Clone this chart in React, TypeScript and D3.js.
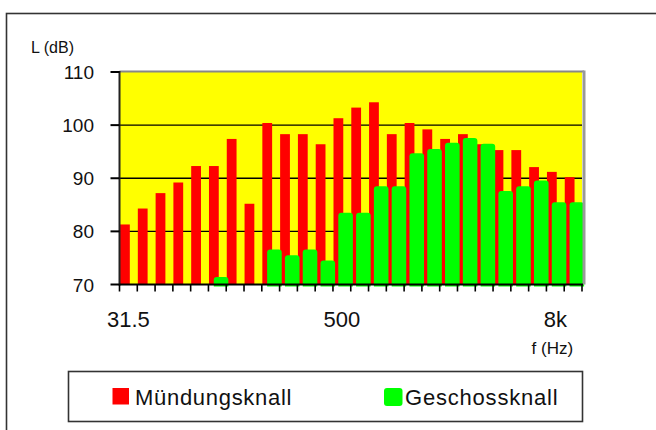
import React from "react";
import * as d3 from "d3";

// third-octave bands
const bands = ["31.5", "40", "50", "63", "80", "100", "125", "160", "200", "250", "315", "400", "500",
  "630", "800", "1k", "1.25k", "1.6k", "2k", "2.5k", "3.15k", "4k", "5k", "6.3k", "8k", "10k"];
const shownLabels = ["31.5", "500", "8k"];

// Mündungsknall (red)
const muendung = [81.3, 84.3, 87.2, 89.2, 92.3, 92.3, 97.4, 85.2, 100.4, 98.3, 98.3, 96.4, 101.3,
  103.3, 104.3, 98.3, 100.4, 99.2, 97.4, 98.3, 96.4, 95.3, 95.3, 92.1, 91.2, 90.2];
// Geschossknall (green), null = below 70 dB
const geschoss = [null, null, null, null, null, 71.4, null, null, 76.6, 75.5, 76.6, 74.5, 83.5,
  83.5, 88.5, 88.5, 94.7, 95.5, 96.7, 97.6, 96.5, 87.6, 88.5, 89.6, 85.5, 85.5];
const yTicks = [70, 80, 90, 100, 110];

const RED = "#ff0000";
const GREEN = "#00ff00";
const YELLOW = "#ffff00";
const FONT = "'Liberation Sans', Arial, sans-serif";

// rect with rounded top corners only
function topRounded(x: number, y: number, w: number, h: number, r: number) {
  const rr = Math.min(r, h, w / 2);
  return `M${x},${y + h}V${y + rr}Q${x},${y} ${x + rr},${y}H${x + w - rr}Q${x + w},${y} ${x + w},${y + rr}V${y + h}Z`;
}

export default function App() {
  const left = 119.5, right = 582, top = 72, bottom = 284.5;

  const x = d3.scaleBand().domain(bands).range([left, right]).padding(0);
  const y = d3.scaleLinear().domain([70, 110]).range([bottom, top]);
  const bw = x.bandwidth();

  return (
    <svg width={656} height={430} style={{ position: "absolute", left: 0, top: 0, background: "#fff" }}
      fontFamily={FONT}>
      {/* outer frame */}
      <rect x={6.5} y={13.5} width={700} height={500} fill="none" stroke="#333" strokeWidth={1.6} />

      <text x={31} y={53} fontSize={16} fill="#111">L (dB)</text>

      {/* plot area */}
      <rect x={left} y={top} width={right - left} height={bottom - top} fill={YELLOW} />
      {yTicks.filter(t => t > 70 && t < 110).map(t => (
        <line key={t} x1={left} x2={right} y1={y(t)} y2={y(t)} stroke="#000" strokeWidth={1.4} />
      ))}

      {/* red bars */}
      {muendung.map((v, i) => (
        <rect key={"r" + i} x={x(bands[i])! + bw * 0.03} y={y(v)} width={bw * 0.55}
          height={y(70) - y(v)} fill={RED} />
      ))}
      {/* green bars */}
      {geschoss.map((v, i) => v == null ? null : (
        <path key={"g" + i} d={topRounded(x(bands[i])! + bw * 0.3, y(v), bw * 0.82, y(70) - y(v) + 2, 3)}
          fill={GREEN} />
      ))}

      {/* plot border */}
      <line x1={left} x2={right + 2} y1={top - 0.5} y2={top - 0.5} stroke="#888" strokeWidth={2} />
      <line x1={right + 2} x2={right + 2} y1={top - 1.5} y2={bottom} stroke="#999" strokeWidth={3} />

      {/* y axis */}
      <line x1={left} x2={left} y1={top - 1} y2={bottom + 1} stroke="#222" strokeWidth={2} />
      {yTicks.map(t => (
        <g key={t}>
          <line x1={left - 9} x2={left} y1={y(t)} y2={y(t)} stroke="#000" strokeWidth={2} />
          <text x={94} y={y(t) + 7} fontSize={19} textAnchor="end" fill="#111">{t}</text>
        </g>
      ))}

      {/* x axis */}
      <line x1={left} x2={right + 1} y1={bottom} y2={bottom} stroke="#000" strokeWidth={2} />
      {bands.map(b => (
        <line key={b} x1={x(b)!} x2={x(b)!} y1={bottom} y2={bottom + 7} stroke="#000" strokeWidth={1.6} />
      ))}
      <line x1={right} x2={right} y1={bottom} y2={bottom + 7} stroke="#000" strokeWidth={1.6} />
      {shownLabels.map(b => (
        <text key={b} x={x(b)! + bw / 2} y={326.5} fontSize={22} textAnchor="middle" fill="#111">{b}</text>
      ))}
      <text x={x("8k")! + bw / 2 - 3} y={354} fontSize={17} textAnchor="middle" fill="#111">f (Hz)</text>

      {/* legend */}
      <rect x={68.5} y={371.5} width={514} height={50} fill="#fff" stroke="#333" strokeWidth={1.6} />
      <rect x={112.5} y={388} width={16.5} height={16.5} fill={RED} />
      <text x={135} y={405} fontSize={22} letterSpacing={0.7} fill="#111">Mündungsknall</text>
      <rect x={384} y={388} width={18.5} height={18} rx={3} fill={GREEN} />
      <text x={405} y={405} fontSize={22} letterSpacing={0.8} fill="#111">Geschossknall</text>
    </svg>
  );
}
